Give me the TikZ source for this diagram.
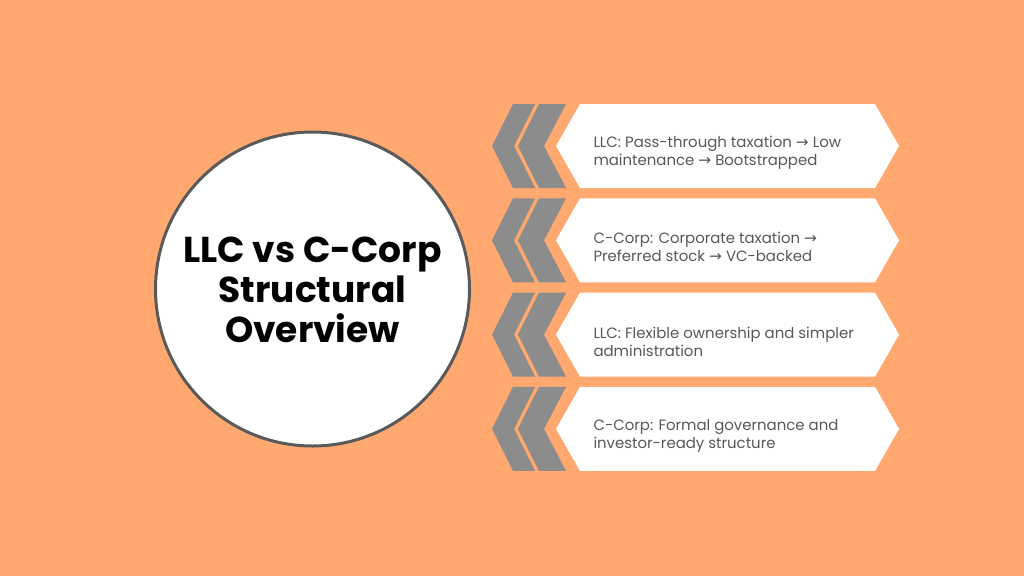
\documentclass[tikz,border=0pt]{standalone}
\usepackage{fontspec}
\setmainfont{Poppins}
\newfontfamily\arrowfont{DejaVu Sans}
\newcommand{\rarrow}{{\arrowfont\fontsize{11.5}{13.6}\selectfont →}}
\definecolor{bgorange}{RGB}{255,168,112}
\definecolor{chevgray}{RGB}{140,140,140}
\definecolor{txtgray}{RGB}{88,88,88}
\definecolor{ringgray}{RGB}{90,90,90}

\tikzset{every picture/.style={line width=0.75pt}}
\tikzset{
  chevron/.style={fill=chevgray, draw=none},
  panel/.style={fill=white, draw=none},
  paneltext/.style={anchor=west, inner sep=0.75pt, align=left, text=txtgray, font=\fontsize{11.2}{13.6}\selectfont},
  titletext/.style={inner sep=0.75pt, align=center, text=black, font=\fontsize{27}{30}\selectfont\bfseries},
}

\begin{document}
\begin{tikzpicture}[x=0.75pt,y=0.75pt,yscale=-1,xscale=1]
    %Background
    \fill [bgorange] (0,0) rectangle (1024,576) ;
    \useasboundingbox (0,0) rectangle (1024,576) ;

    %Circle
    \draw [draw=ringgray, fill=white, line width=2.25] (312.5,289) circle [x radius=157, y radius=157] ;
    % Text Node
    \node [titletext] (title) at (312.5,290) {LLC vs C-Corp\\Structural\\Overview} ;

    %Row 1
    \draw [chevron, shift={(0,0)}] (513,104) -- (535,104) -- (514,146) -- (535,188) -- (513,188) -- (492,146) -- cycle ;
    \draw [chevron, shift={(0,0)}] (539,104) -- (566,104) -- (544,146) -- (566,188) -- (539,188) -- (518,146) -- cycle ;
    \draw [panel, shift={(0,0)}] (580,104) -- (875,104) -- (899,146) -- (875,188) -- (580,188) -- (556,146) -- cycle ;
    % Text Node
    \node [paneltext] (llctax) at (592,153) {LLC: Pass-through taxation \rarrow{} Low\\maintenance \rarrow{} Bootstrapped} ;

    %Row 2
    \draw [chevron, shift={(0,94.3)}] (513,104) -- (535,104) -- (514,146) -- (535,188) -- (513,188) -- (492,146) -- cycle ;
    \draw [chevron, shift={(0,94.3)}] (539,104) -- (566,104) -- (544,146) -- (566,188) -- (539,188) -- (518,146) -- cycle ;
    \draw [panel, shift={(0,94.3)}] (580,104) -- (875,104) -- (899,146) -- (875,188) -- (580,188) -- (556,146) -- cycle ;
    % Text Node
    \node [paneltext] (corptax) at (592,247.3) {C-Corp: Corporate taxation \rarrow\\Preferred stock \rarrow{} VC-backed} ;

    %Row 3
    \draw [chevron, shift={(0,188.6)}] (513,104) -- (535,104) -- (514,146) -- (535,188) -- (513,188) -- (492,146) -- cycle ;
    \draw [chevron, shift={(0,188.6)}] (539,104) -- (566,104) -- (544,146) -- (566,188) -- (539,188) -- (518,146) -- cycle ;
    \draw [panel, shift={(0,188.6)}] (580,104) -- (875,104) -- (899,146) -- (875,188) -- (580,188) -- (556,146) -- cycle ;
    % Text Node
    \node [paneltext] (llcown) at (592,341.6) {LLC: Flexible ownership and simpler\\administration} ;

    %Row 4
    \draw [chevron, shift={(0,282.9)}] (513,104) -- (535,104) -- (514,146) -- (535,188) -- (513,188) -- (492,146) -- cycle ;
    \draw [chevron, shift={(0,282.9)}] (539,104) -- (566,104) -- (544,146) -- (566,188) -- (539,188) -- (518,146) -- cycle ;
    \draw [panel, shift={(0,282.9)}] (580,104) -- (875,104) -- (899,146) -- (875,188) -- (580,188) -- (556,146) -- cycle ;
    % Text Node
    \node [paneltext] (corpgov) at (592,435.9) {C-Corp: Formal governance and\\investor-ready structure} ;

\end{tikzpicture}
\end{document}
